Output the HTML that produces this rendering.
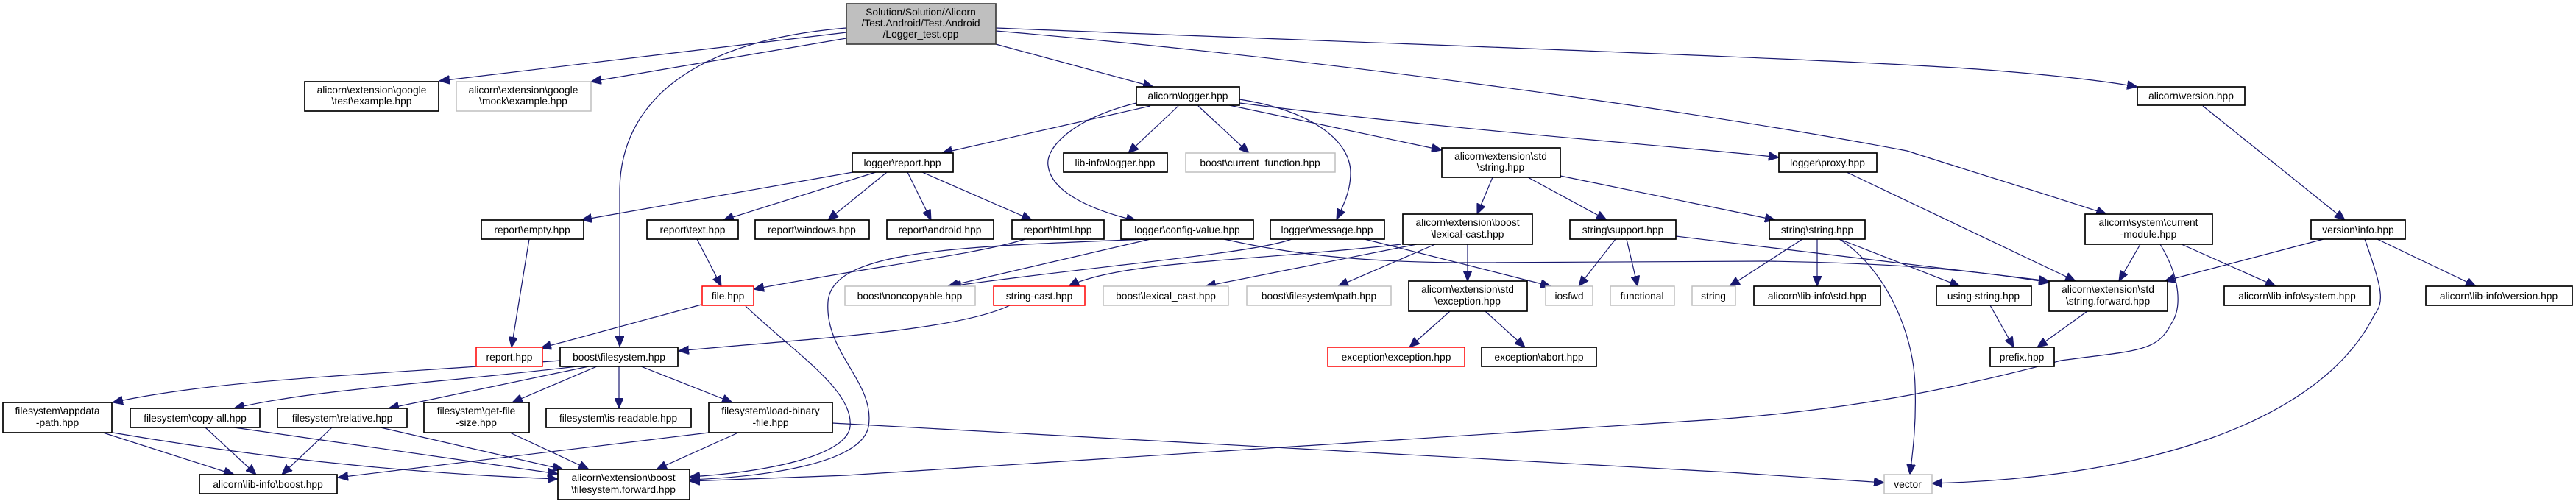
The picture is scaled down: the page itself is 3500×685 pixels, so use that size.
<!DOCTYPE html>
<html><head><meta charset="utf-8"><style>
html,body{margin:0;padding:0;background:#fff;}
svg{display:block;}
text{font-family:"Liberation Sans",sans-serif;font-size:13.8px;fill:#000;text-anchor:middle;}
.n{fill:#fff;stroke:#000;stroke-width:1.7;}
.g{fill:#fff;stroke:#bfbfbf;stroke-width:1.5;}
.r{fill:#fff;stroke:#ff0000;stroke-width:1.5;}
.e{fill:none;stroke:#191970;stroke-width:1.2;marker-end:url(#a);}
</style></head><body>
<svg width="3500" height="685" viewBox="0 0 3500 685" xmlns="http://www.w3.org/2000/svg">
<defs><marker id="a" markerUnits="userSpaceOnUse" markerWidth="15" markerHeight="12" refX="14" refY="6" orient="auto"><path d="M0,0 L14,6 L0,12 z" fill="#191970" stroke="#191970"/></marker></defs>
<g>
<path class="e" d="M1150,44 L597,110"/>
<path class="e" d="M1150,52 L803,111"/>
<path class="e" d="M1150,38 C940,55 842,140 842,260 L842,471"/>
<path class="e" d="M1353,60 L1567,118"/>
<path class="e" d="M1353,38 C1900,60 2500,80 2700,95 C2800,103 2860,110 2904,118"/>
<path class="e" d="M1353,42 C1800,80 2300,150 2591,205 C2700,240 2800,270 2862,291"/>
<path class="e" d="M1563,144 L1280,208"/>
<path class="e" d="M1601,144 L1533,208"/>
<path class="e" d="M1628,144 L1697,208"/>
<path class="e" d="M1670,143 L1959,204"/>
<path class="e" d="M1684,140 C2000,180 2300,200 2417,214"/>
<path class="e" d="M1544,140 C1460,160 1420,200 1424,225 C1428,260 1480,285 1544,300"/>
<path class="e" d="M1684,135 C1780,150 1835,190 1835,235 C1835,260 1825,280 1816,298"/>
<path class="e" d="M1159,234 L790,299"/>
<path class="e" d="M1190,234 L983,299"/>
<path class="e" d="M1205,234 L1125,299"/>
<path class="e" d="M1233,234 L1265,299"/>
<path class="e" d="M1253,234 L1402,299"/>
<path class="e" d="M719,325 L695,472"/>
<path class="e" d="M947,325 L980,389"/>
<path class="e" d="M1393,325 C1330,345 1200,360 1024,393"/>
<path class="e" d="M1563,325 L1288,389"/>
<path class="e" d="M1755,325 C1700,345 1500,360 1292,389"/>
<path class="e" d="M1854,325 L2107,389"/>
<path class="e" d="M1663,325 C1750,345 1850,357 2000,357 L2400,355 C2600,358 2700,370 2784,384"/>
<path class="e" d="M1560,325 C1300,335 1130,340 1125,410 C1120,480 1190,520 1180,580 C1170,630 1040,648 937,652"/>
<path class="e" d="M1013,416 C1080,480 1160,530 1155,580 C1150,620 1040,642 937,648"/>
<path class="e" d="M1904,332 C1700,355 1520,355 1452,389"/>
<path class="e" d="M1925,332 L1638,389"/>
<path class="e" d="M1950,332 L1818,389"/>
<path class="e" d="M1994,332 L1994,382"/>
<path class="e" d="M2028,241 L2007,291"/>
<path class="e" d="M2076,241 L2183,299"/>
<path class="e" d="M2120,239 L2412,299"/>
<path class="e" d="M2195,325 L2145,389"/>
<path class="e" d="M2210,325 L2225,389"/>
<path class="e" d="M2277,321 L2784,382"/>
<path class="e" d="M2449,325 L2350,389"/>
<path class="e" d="M2469,325 L2469,389"/>
<path class="e" d="M2499,325 L2663,389"/>
<path class="e" d="M2499,325 C2560,363 2600,450 2602,524 C2604,580 2598,620 2595,645"/>
<path class="e" d="M2704,415 L2736,472"/>
<path class="e" d="M2836,423 L2768,472"/>
<path class="e" d="M2509,234 L2820,382"/>
<path class="e" d="M2908,332 L2879,382"/>
<path class="e" d="M2964,332 L3092,389"/>
<path class="e" d="M2935,332 C2964,380 2964,420 2950,440 C2930,480 2900,476 2800,490 C2650,530 2500,560 2300,572 L1150,646 L937,654"/>
<path class="e" d="M2993,144 L3186,299"/>
<path class="e" d="M3157,325 L2941,382"/>
<path class="e" d="M3230,325 L3364,389"/>
<path class="e" d="M3213,325 C3237,393 3240,410 3226,428 C3150,580 2900,650 2625,657"/>
<path class="e" d="M1131,575 L2350,642 L2560,656"/>
<path class="e" d="M963,588 L459,649"/>
<path class="e" d="M1003,588 L892,638"/>
<path class="e" d="M761,490 C500,510 300,515 153,547"/>
<path class="e" d="M784,498 C600,520 420,530 318,555"/>
<path class="e" d="M800,498 L528,555"/>
<path class="e" d="M811,498 L696,547"/>
<path class="e" d="M841,498 L841,555"/>
<path class="e" d="M871,498 L995,547"/>
<path class="e" d="M953,414 L735,473"/>
<path class="e" d="M1372,415 C1300,450 1100,460 922,477"/>
<path class="e" d="M140,588 L318,645"/>
<path class="e" d="M153,588 C400,630 600,645 758,651"/>
<path class="e" d="M279,581 L348,645"/>
<path class="e" d="M318,581 L758,644"/>
<path class="e" d="M451,581 L383,645"/>
<path class="e" d="M517,581 L765,638"/>
<path class="e" d="M693,588 L800,638"/>
<path class="e" d="M1970,423 L1915,472"/>
<path class="e" d="M2018,423 L2072,472"/>
</g>
<g>
<rect x="1150" y="5" width="203" height="55" fill="#bfbfbf" stroke="#404040" stroke-width="1.7"/>
<text x="1251" y="21">Solution/Solution/Alicorn</text><text x="1251" y="36">/Test.Android/Test.Android</text><text x="1251" y="51">/Logger_test.cpp</text>

<rect class="n" x="414" y="111" width="182" height="40"/><text x="505" y="127">alicorn\extension\google</text><text x="505" y="142">\test\example.hpp</text>
<rect class="g" x="620" y="111" width="183" height="40"/><text x="711" y="127">alicorn\extension\google</text><text x="711" y="142">\mock\example.hpp</text>
<rect class="n" x="1544" y="118" width="140" height="25"/><text x="1614" y="135">alicorn\logger.hpp</text>
<rect class="n" x="2904" y="118" width="146" height="25"/><text x="2977" y="135">alicorn\version.hpp</text>

<rect class="n" x="1158" y="208" width="137" height="26"/><text x="1226" y="226">logger\report.hpp</text>
<rect class="n" x="1445" y="208" width="141" height="26"/><text x="1515" y="226">lib-info\logger.hpp</text>
<rect class="g" x="1611" y="208" width="203" height="26"/><text x="1712" y="226">boost\current_function.hpp</text>
<rect class="n" x="1959" y="201" width="161" height="40"/><text x="2039" y="217">alicorn\extension\std</text><text x="2039" y="232">\string.hpp</text>
<rect class="n" x="2417" y="208" width="133" height="26"/><text x="2483" y="226">logger\proxy.hpp</text>

<rect class="n" x="654" y="299" width="139" height="26"/><text x="723" y="317">report\empty.hpp</text>
<rect class="n" x="879" y="299" width="124" height="26"/><text x="941" y="317">report\text.hpp</text>
<rect class="n" x="1026" y="299" width="155" height="26"/><text x="1103" y="317">report\windows.hpp</text>
<rect class="n" x="1205" y="299" width="145" height="26"/><text x="1277" y="317">report\android.hpp</text>
<rect class="n" x="1375" y="299" width="125" height="26"/><text x="1437" y="317">report\html.hpp</text>
<rect class="n" x="1523" y="299" width="180" height="26"/><text x="1613" y="317">logger\config-value.hpp</text>
<rect class="n" x="1726" y="299" width="155" height="26"/><text x="1803" y="317">logger\message.hpp</text>
<rect class="n" x="1906" y="291" width="176" height="41"/><text x="1994" y="307">alicorn\extension\boost</text><text x="1994" y="323">\lexical-cast.hpp</text>
<rect class="n" x="2133" y="299" width="144" height="26"/><text x="2205" y="317">string\support.hpp</text>
<rect class="n" x="2404" y="299" width="130" height="26"/><text x="2469" y="317">string\string.hpp</text>
<rect class="n" x="2833" y="291" width="173" height="41"/><text x="2919" y="307">alicorn\system\current</text><text x="2919" y="323">-module.hpp</text>
<rect class="n" x="3140" y="299" width="128" height="26"/><text x="3204" y="317">version\info.hpp</text>

<rect class="r" x="954" y="389" width="70" height="26"/><text x="989" y="407">file.hpp</text>
<rect class="g" x="1148" y="389" width="177" height="26"/><text x="1236" y="407">boost\noncopyable.hpp</text>
<rect class="r" x="1350" y="389" width="124" height="26"/><text x="1412" y="407">string-cast.hpp</text>
<rect class="g" x="1499" y="389" width="170" height="26"/><text x="1584" y="407">boost\lexical_cast.hpp</text>
<rect class="g" x="1694" y="389" width="196" height="26"/><text x="1792" y="407">boost\filesystem\path.hpp</text>
<rect class="n" x="1914" y="382" width="161" height="41"/><text x="1994" y="398">alicorn\extension\std</text><text x="1994" y="414">\exception.hpp</text>
<rect class="g" x="2100" y="389" width="64" height="26"/><text x="2132" y="407">iosfwd</text>
<rect class="g" x="2188" y="389" width="87" height="26"/><text x="2231" y="407">functional</text>
<rect class="g" x="2299" y="389" width="59" height="26"/><text x="2328" y="407">string</text>
<rect class="n" x="2383" y="389" width="172" height="26"/><text x="2469" y="407">alicorn\lib-info\std.hpp</text>
<rect class="n" x="2631" y="389" width="129" height="26"/><text x="2695" y="407">using-string.hpp</text>
<rect class="n" x="2784" y="382" width="161" height="41"/><text x="2864" y="398">alicorn\extension\std</text><text x="2864" y="414">\string.forward.hpp</text>
<rect class="n" x="3022" y="389" width="198" height="26"/><text x="3121" y="407">alicorn\lib-info\system.hpp</text>
<rect class="n" x="3296" y="389" width="199" height="26"/><text x="3395" y="407">alicorn\lib-info\version.hpp</text>

<rect class="r" x="647" y="472" width="90" height="26"/><text x="692" y="490">report.hpp</text>
<rect class="n" x="761" y="472" width="160" height="26"/><text x="841" y="490">boost\filesystem.hpp</text>
<rect class="r" x="1804" y="472" width="186" height="26"/><text x="1897" y="490">exception\exception.hpp</text>
<rect class="n" x="2013" y="472" width="156" height="26"/><text x="2091" y="490">exception\abort.hpp</text>
<rect class="n" x="2704" y="472" width="87" height="26"/><text x="2747" y="490">prefix.hpp</text>

<rect class="n" x="4" y="547" width="148" height="41"/><text x="78" y="563">filesystem\appdata</text><text x="78" y="579">-path.hpp</text>
<rect class="n" x="177" y="555" width="176" height="26"/><text x="265" y="573">filesystem\copy-all.hpp</text>
<rect class="n" x="377" y="555" width="176" height="26"/><text x="465" y="573">filesystem\relative.hpp</text>
<rect class="n" x="576" y="547" width="143" height="41"/><text x="647" y="563">filesystem\get-file</text><text x="647" y="579">-size.hpp</text>
<rect class="n" x="742" y="555" width="197" height="26"/><text x="840" y="573">filesystem\is-readable.hpp</text>
<rect class="n" x="963" y="547" width="168" height="41"/><text x="1047" y="563">filesystem\load-binary</text><text x="1047" y="579">-file.hpp</text>

<rect class="n" x="271" y="645" width="187" height="26"/><text x="364" y="663">alicorn\lib-info\boost.hpp</text>
<rect class="n" x="758" y="638" width="179" height="41"/><text x="847" y="654">alicorn\extension\boost</text><text x="847" y="670">\filesystem.forward.hpp</text>
<rect class="g" x="2560" y="645" width="65" height="26"/><text x="2592" y="663">vector</text>
</g>
</svg>
</body></html>
